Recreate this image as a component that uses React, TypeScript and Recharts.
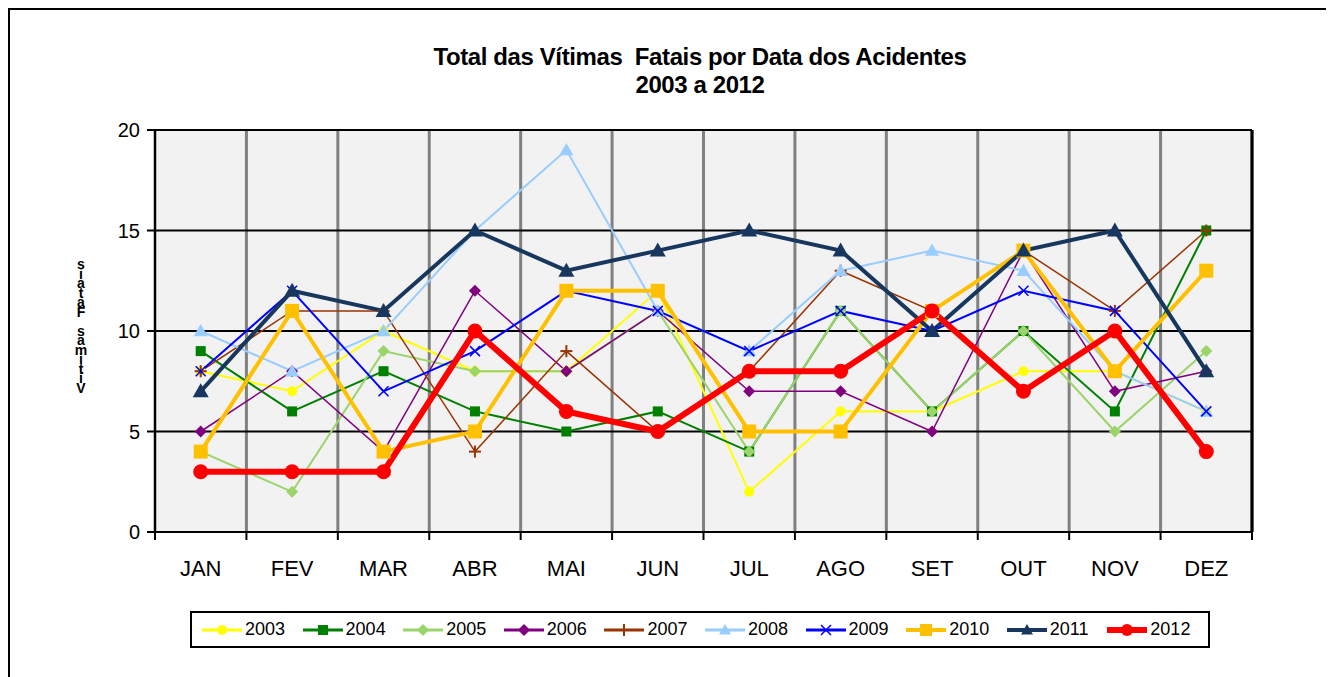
import React from 'react';
import { LineChart, Line, XAxis, YAxis, CartesianGrid, ReferenceLine } from 'recharts';

const MONTHS = ['JAN', 'FEV', 'MAR', 'ABR', 'MAI', 'JUN', 'JUL', 'AGO', 'SET', 'OUT', 'NOV', 'DEZ'];
const Y_TICKS = [0, 5, 10, 15, 20];

const V2003 = [8, 7, 10, 8, 8, 12, 2, 6, 6, 8, 8, 6];
const V2004 = [9, 6, 8, 6, 5, 6, 4, 11, 6, 10, 6, 15];
const V2005 = [4, 2, 9, 8, 8, 11, 4, 11, 6, 10, 5, 9];
const V2006 = [5, 8, 4, 12, 8, 11, 7, 7, 5, 14, 7, 8];
const V2007 = [8, 11, 11, 4, 9, 5, 8, 13, 11, 14, 11, 15];
const V2008 = [10, 8, 10, 15, 19, 11, 9, 13, 14, 13, 8, 6];
const V2009 = [8, 12, 7, 9, 12, 11, 9, 11, 10, 12, 11, 6];
const V2010 = [4, 11, 4, 5, 12, 12, 5, 5, 11, 14, 8, 13];
const V2011 = [7, 12, 11, 15, 13, 14, 15, 14, 10, 14, 15, 8];
const V2012 = [3, 3, 3, 10, 6, 5, 8, 8, 11, 7, 10, 4];

const TITLE = 'Total das Vítimas  Fatais por Data dos Acidentes';
const SUBTITLE = '2003 a 2012';
const Y_LABEL = 'Vítimas Fatais';

type Shape = 'circle' | 'square' | 'diamond' | 'plus' | 'triangle' | 'cross';

interface Series {
  year: string;
  values: number[];
  color: string;
  width: number;
  shape: Shape;
  size: number;
}

const SERIES: Series[] = [
  { year: '2003', values: V2003, color: '#FFFF00', width: 2, shape: 'circle', size: 5 },
  { year: '2004', values: V2004, color: '#008000', width: 2, shape: 'square', size: 5 },
  { year: '2005', values: V2005, color: '#9BD46A', width: 2, shape: 'diamond', size: 6 },
  { year: '2006', values: V2006, color: '#800080', width: 1.5, shape: 'diamond', size: 6 },
  { year: '2007', values: V2007, color: '#993300', width: 1.5, shape: 'plus', size: 6 },
  { year: '2008', values: V2008, color: '#99CCFF', width: 2, shape: 'triangle', size: 7 },
  { year: '2009', values: V2009, color: '#0000FF', width: 2, shape: 'cross', size: 5 },
  { year: '2010', values: V2010, color: '#FFC000', width: 4, shape: 'square', size: 7 },
  { year: '2011', values: V2011, color: '#17375E', width: 4, shape: 'triangle', size: 8 },
  { year: '2012', values: V2012, color: '#FF0000', width: 6, shape: 'circle', size: 7.5 },
];

const data = MONTHS.map((m, i) => {
  const row: Record<string, number | string> = { idx: i, month: m };
  SERIES.forEach((s) => {
    row[s.year] = s.values[i];
  });
  return row;
});

const LABEL_TICKS = MONTHS.map((_, i) => i);
const BOUNDARY_TICKS = MONTHS.map((_, i) => i - 0.5).concat(MONTHS.length - 0.5);
const FONT = 'Arial, "Liberation Sans", sans-serif';

function Marker({ shape, color, size, cx, cy }: { shape: Shape; color: string; size: number; cx: number; cy: number }) {
  if (cx == null || cy == null) return null;
  switch (shape) {
    case 'circle':
      return <circle cx={cx} cy={cy} r={size} fill={color} />;
    case 'square':
      return <rect x={cx - size} y={cy - size} width={size * 2} height={size * 2} fill={color} />;
    case 'diamond':
      return <polygon points={`${cx},${cy - size} ${cx + size},${cy} ${cx},${cy + size} ${cx - size},${cy}`} fill={color} />;
    case 'triangle':
      return <polygon points={`${cx},${cy - size} ${cx + size},${cy + size * 0.75} ${cx - size},${cy + size * 0.75}`} fill={color} />;
    case 'plus':
      return (
        <g stroke={color} strokeWidth={2}>
          <line x1={cx - size} y1={cy} x2={cx + size} y2={cy} />
          <line x1={cx} y1={cy - size} x2={cx} y2={cy + size} />
        </g>
      );
    case 'cross':
      return (
        <g stroke={color} strokeWidth={1.5}>
          <line x1={cx - size} y1={cy - size} x2={cx + size} y2={cy + size} />
          <line x1={cx - size} y1={cy + size} x2={cx + size} y2={cy - size} />
        </g>
      );
    default:
      return null;
  }
}

// gray separators sit between the months, not on them
const monthBoundaries = ({ xAxis, offset }: any) =>
  BOUNDARY_TICKS.map((t) =>
    xAxis && typeof xAxis.scale === 'function'
      ? xAxis.scale(t)
      : offset.left + ((t + 0.5) / MONTHS.length) * offset.width
  );

// small tick below the axis at each month boundary (tickMargin is 0, so the label point is the tick end)
const BoundaryTick = (p: any) => (
  <line x1={p.x} x2={p.x} y1={p.y - 8} y2={p.y} stroke="#000" strokeWidth={2} />
);

export default function App() {
  return (
    <div
      style={{
        position: 'relative',
        width: 1326,
        height: 669,
        borderTop: '2px solid #000',
        borderLeft: '2px solid #000',
        boxSizing: 'border-box',
        background: '#fff',
        fontFamily: FONT,
        overflow: 'hidden',
      }}
    >
      <style>{'body{overflow:hidden;}'}</style>

      {/* title */}
      <div
        style={{
          position: 'absolute',
          left: 340,
          top: 33,
          width: 700,
          textAlign: 'center',
          fontWeight: 'bold',
          fontSize: 24,
          letterSpacing: -0.4,
          lineHeight: '28px',
          color: '#000',
          whiteSpace: 'pre',
        }}
      >
        <div>{TITLE}</div>
        <div>{SUBTITLE}</div>
      </div>

      {/* stacked y label */}
      <div
        style={{
          position: 'absolute',
          left: 64,
          top: 250,
          width: 14,
          display: 'flex',
          flexDirection: 'column-reverse',
          alignItems: 'center',
          fontWeight: 'bold',
          fontSize: 14,
          color: '#000',
        }}
      >
        {Y_LABEL.split('').map((ch, i) => (
          <span key={i} style={{ display: 'block', height: 9.5, lineHeight: '9.5px' }}>
            {ch === ' ' ? '\u00a0' : ch}
          </span>
        ))}
      </div>

      <div style={{ position: 'absolute', left: 0, top: 0 }}>
        <LineChart width={1300} height={570} data={data} margin={{ top: 120, right: 58, left: 95, bottom: 0 }}>
          <CartesianGrid
            xAxisId="grid"
            horizontal={false}
            stroke="#808080"
            strokeWidth={3}
            fill="#F2F2F2"
            verticalCoordinatesGenerator={monthBoundaries}
          />
          <CartesianGrid xAxisId="grid" vertical={false} stroke="#000" strokeWidth={2} />
          <XAxis
            xAxisId="grid"
            dataKey="idx"
            type="number"
            domain={[-0.5, 11.5]}
            ticks={BOUNDARY_TICKS}
            interval={0}
            tick={BoundaryTick}
            tickSize={8}
            tickMargin={0}
            tickLine={false}
            axisLine={{ stroke: '#000', strokeWidth: 2 }}
            height={8}
          />
          <XAxis
            xAxisId="label"
            dataKey="idx"
            type="number"
            domain={[-0.5, 11.5]}
            ticks={LABEL_TICKS}
            interval={0}
            tickFormatter={(v: number) => MONTHS[v]}
            axisLine={false}
            tickLine={false}
            tickSize={0}
            tickMargin={20}
            height={40}
            tick={{ fill: '#000', fontSize: 22, fontFamily: FONT }}
          />
          <YAxis
            domain={[0, 20]}
            ticks={Y_TICKS}
            interval={0}
            width={50}
            tickSize={8}
            tickMargin={7}
            axisLine={{ stroke: '#000', strokeWidth: 2 }}
            tickLine={{ stroke: '#000', strokeWidth: 2 }}
            tick={{ fill: '#000', fontSize: 20, fontFamily: FONT }}
          />
          <ReferenceLine xAxisId="grid" x={11.5} stroke="#000" strokeWidth={3} />
          {SERIES.map((s) => (
            <Line
              key={s.year}
              xAxisId="grid"
              dataKey={s.year}
              stroke={s.color}
              strokeWidth={s.width}
              isAnimationActive={false}
              dot={(p: any) => (
                <Marker key={`${s.year}-${p.index}`} shape={s.shape} color={s.color} size={s.size} cx={p.cx} cy={p.cy} />
              )}
              activeDot={false}
            />
          ))}
        </LineChart>
      </div>

      {/* legend */}
      <div
        style={{
          position: 'absolute',
          left: 180,
          top: 601,
          width: 1020,
          height: 37,
          border: '2px solid #000',
          boxSizing: 'border-box',
          display: 'flex',
          alignItems: 'center',
          paddingLeft: 10,
          fontSize: 18,
          color: '#000',
        }}
      >
        {SERIES.map((s) => (
          <div key={s.year} style={{ display: 'flex', alignItems: 'center', width: 101.5 }}>
            <svg width={40} height={18}>
              <line x1={0} y1={9} x2={40} y2={9} stroke={s.color} strokeWidth={Math.max(s.width, 3)} />
              <Marker shape={s.shape} color={s.color} size={Math.min(s.size, 6)} cx={20} cy={9} />
            </svg>
            <span style={{ marginLeft: 3 }}>{s.year}</span>
          </div>
        ))}
      </div>
    </div>
  );
}
